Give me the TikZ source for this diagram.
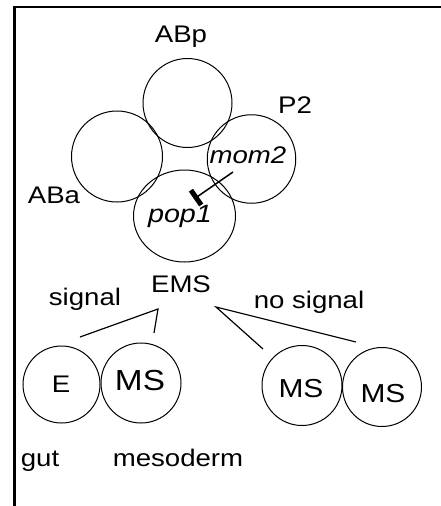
\documentclass[tikz,border=0pt]{standalone}
\usepackage{fontspec}
\setmainfont{Liberation Sans}[FakeStretch=1.15]
\usetikzlibrary{shapes.geometric,arrows.meta}
\tikzset{
  cell/.style={circle, draw, line width=1pt, inner sep=0pt},
  lbl/.style={inner sep=0pt, anchor=base, font=\fontsize{24}{28}\selectfont},
  ital/.style={lbl, font=\fontsize{24}{28}\selectfont\itshape},
  wedge/.style={line width=1.2pt},
}
\begin{document}
\begin{tikzpicture}[x=1pt,y=-1pt]
\useasboundingbox (0,0) rectangle (441,506);
\draw[line width=2.5pt] (441,7) -- (14.5,7) -- (14.5,506);
% top embryo cells
\node[cell, minimum size=89pt] (ABp) at (187.5,103) {};
\node[cell, minimum size=91pt] (ABa) at (117,156.5) {};
\node[cell, minimum size=88.5pt] (P2) at (251.5,159) {};
\node[ellipse, draw, line width=1pt, inner sep=0pt, minimum width=102pt, minimum height=92pt] (EMScell) at (184.5,216) {};
% labels
\node[lbl] (lABp) at (181,42.5) {ABp};
\node[lbl] (lP2) at (295,113) {P2};
\node[lbl] (lABa) at (54,203) {ABa};
\node[ital] (mom) at (248,163) {mom2};
\node[ital, font=\fontsize{25}{28}\selectfont\itshape] (pop) at (180,222) {pop1};
% inhibition
\coordinate (inhA) at (233,172);
\coordinate (inhB) at (194,199);
\draw[line width=1.5pt, -{Bar[width=18pt,line width=5pt]}] (inhA) -- (inhB);
% EMS label and branches
\node[lbl] (lEMS) at (181,292) {EMS};
\node[lbl] (lsig) at (85,305) {signal};
\node[lbl] (lnosig) at (309,308) {no signal};
\coordinate (apexL) at (158,309);
\coordinate (apexR) at (216,307);
\coordinate (sL1) at (80,337);
\coordinate (sL2) at (154,333);
\coordinate (sR1) at (263,349);
\coordinate (sR2) at (356,342);
\draw[wedge] (sL1) -- (apexL) -- (sL2);
\draw[wedge] (sR1) -- (apexR) -- (sR2);
% daughter cells
\node[cell, minimum size=77pt] (E) at (61.5,384.5) {};
\node[cell, minimum size=80pt] (MS1) at (141,383) {};
\node[cell, minimum size=80pt] (MS2) at (302,385.5) {};
\node[cell, minimum size=79pt] (MS3) at (382,387) {};
\node[lbl] (tE) at (61,392) {E};
\node[lbl, font=\fontsize{29}{32}\selectfont] (tMS1) at (140,390) {MS};
\node[lbl, font=\fontsize{26}{30}\selectfont] (tMS2) at (301,397) {MS};
\node[lbl, font=\fontsize{26}{30}\selectfont] (tMS3) at (383,402) {MS};
\node[lbl] (gut) at (40,466) {gut};
\node[lbl] (meso) at (178,466) {mesoderm};
\end{tikzpicture}
\end{document}
